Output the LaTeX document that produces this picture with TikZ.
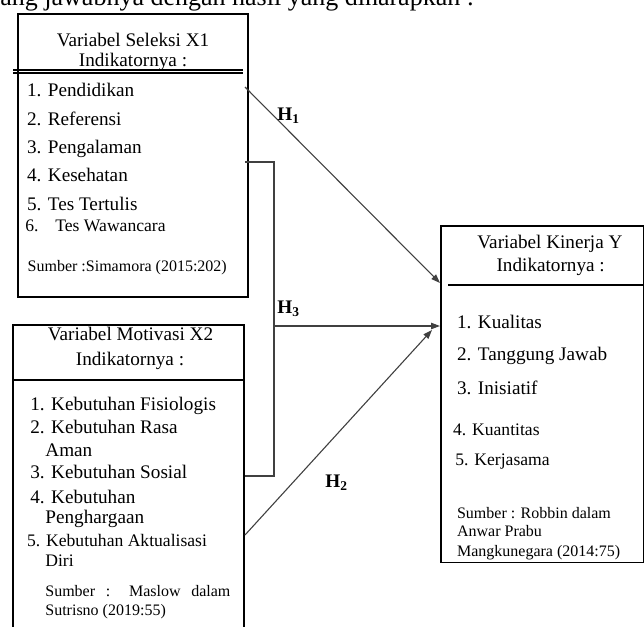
\documentclass[tikz,border=0pt]{standalone}
\usepackage{fontspec}
\setmainfont{Liberation Serif}
\usetikzlibrary{arrows.meta, positioning}

\tikzset{
  box/.style={draw, line width=0.9pt, anchor=north west, inner sep=0pt},
  head/.style={anchor=base, inner sep=0pt, font=\fontsize{9.6}{11}\selectfont},
  item/.style={anchor=base west, inner sep=0pt, font=\fontsize{9.6}{11}\selectfont},
  small/.style={anchor=base west, inner sep=0pt, font=\fontsize{8.8}{10}\selectfont},
  src/.style={anchor=base west, inner sep=0pt, font=\fontsize{8}{9}\selectfont},
  link/.style={draw=black!75, line width=0.55pt},
  arrow/.style={link, -{Triangle[length=4.5pt,width=3.2pt]}},
  hyp/.style={anchor=base west, inner sep=0pt, font=\fontsize{9.6}{11}\selectfont\bfseries}
}

\begin{document}
\begin{tikzpicture}[x=0.5pt, y=-0.5pt]
  \useasboundingbox (0,0) rectangle (644,627);
  % body text cut at the top
  \node[anchor=base west, inner sep=0pt, font=\fontsize{13}{15}\selectfont] (intro) at (0,5.5) {ang jawabnya dengan hasil yang diharapkan :};

  % boxes
  \node[box, minimum width=115pt, minimum height=141.5pt] (x1) at (17,13) {};
  \node[box, minimum width=115.5pt, minimum height=160pt] (x2) at (12,324) {};
  \node[box, minimum width=101.5pt, minimum height=168.3pt] (y) at (440,225) {};
  \draw[line width=0.6pt] (13,70) -- (243,70) (13,73) -- (243,73);
  \draw[line width=0.6pt] (x2.west |- 0,380) -- (x2.east |- 0,380);
  \draw[line width=0.6pt] (448,285) -- (y.east |- 0,285);

  % X1
  \node[head] (x1t) at (133,46.7) {Variabel Seleksi X1};
  \node[head] (x1i) at (133,66.7) {Indikatornya :};
  \node[item] (x1a) at (26.7,96.7) {1. Pendidikan};
  \node[item] (x1b) at (26.7,125) {2. Referensi};
  \node[item] (x1c) at (26.7,153.3) {3. Pengalaman};
  \node[item] (x1d) at (26.7,181.7) {4. Kesehatan};
  \node[item] (x1e) at (26.7,210) {5. Tes Tertulis};
  \node[small] (x1f) at (25,231) {\makebox[15pt][l]{6.}Tes Wawancara};
  \node[src] (x1s) at (27.3,271.7) {Sumber :Simamora (2015:202)};

  % X2
  \node[head] (x2t) at (130.5,340) {Variabel Motivasi X2};
  \node[head] (x2i) at (130,365) {Indikatornya :};
  \node[item] (x2a) at (30,410) {1. Kebutuhan Fisiologis};
  \node[item] (x2b) at (30,433.3) {2. Kebutuhan Rasa};
  \node[item] (x2b2) at (45,456) {Aman};
  \node[item] (x2c) at (30,478.3) {3. Kebutuhan Sosial};
  \node[item] (x2d) at (30,503.3) {4. Kebutuhan};
  \node[item] (x2d2) at (45,523.3) {Penghargaan};
  \node[small] (x2e) at (26.7,546) {5. Kebutuhan Aktualisasi};
  \node[small] (x2e2) at (45,566) {Diri};
  \node[src] (x2s) at (45,596) {\makebox[92.5pt][s]{Sumber : Maslow dalam}};
  \node[src] (x2s2) at (45,615) {Sutrisno (2019:55)};

  % Y
  \node[head] (yt) at (550,248.3) {Variabel Kinerja Y};
  \node[head] (yi) at (550.7,271.7) {Indikatornya :};
  \node[item] (ya) at (456.7,328.3) {1. Kualitas};
  \node[item] (yb) at (456.7,360) {2. Tanggung Jawab};
  \node[item] (yc) at (456.7,394.3) {3. Inisiatif};
  \node[small] (yd) at (452.7,435) {4. Kuantitas};
  \node[small] (ye) at (455,465) {5. Kerjasama};
  \node[src] (ys) at (456.7,518.3) {Sumber : Robbin dalam};
  \node[src] (ys2) at (456.7,536.7) {Anwar Prabu};
  \node[src] (ys3) at (456.7,556.7) {Mangkunegara (2014:75)};

  % hypotheses
  \coordinate (h1s) at (245,87);
  \coordinate (h1e) at (y.west |- 0,283);
  \draw[arrow] (h1s) -- (h1e);
  \node[hyp] (h1) at (277,120) {H\textsubscript{1}};

  \coordinate (b1) at (245,162);
  \coordinate (bm) at (274,326);
  \coordinate (b2) at (245,476);
  \coordinate (h3e) at (y.west |- 0,326);
  \draw[link] (b1) -| (bm) |- (b2);
  \draw[arrow] (bm) -- (h3e);
  \node[hyp] (h3) at (277,313.3) {H\textsubscript{3}};

  \coordinate (h2s) at (245,535);
  \coordinate (h2e) at (432,330);
  \draw[arrow] (h2s) -- (h2e);
  \node[hyp] (h2) at (325,487) {H\textsubscript{2}};
\end{tikzpicture}
\end{document}
